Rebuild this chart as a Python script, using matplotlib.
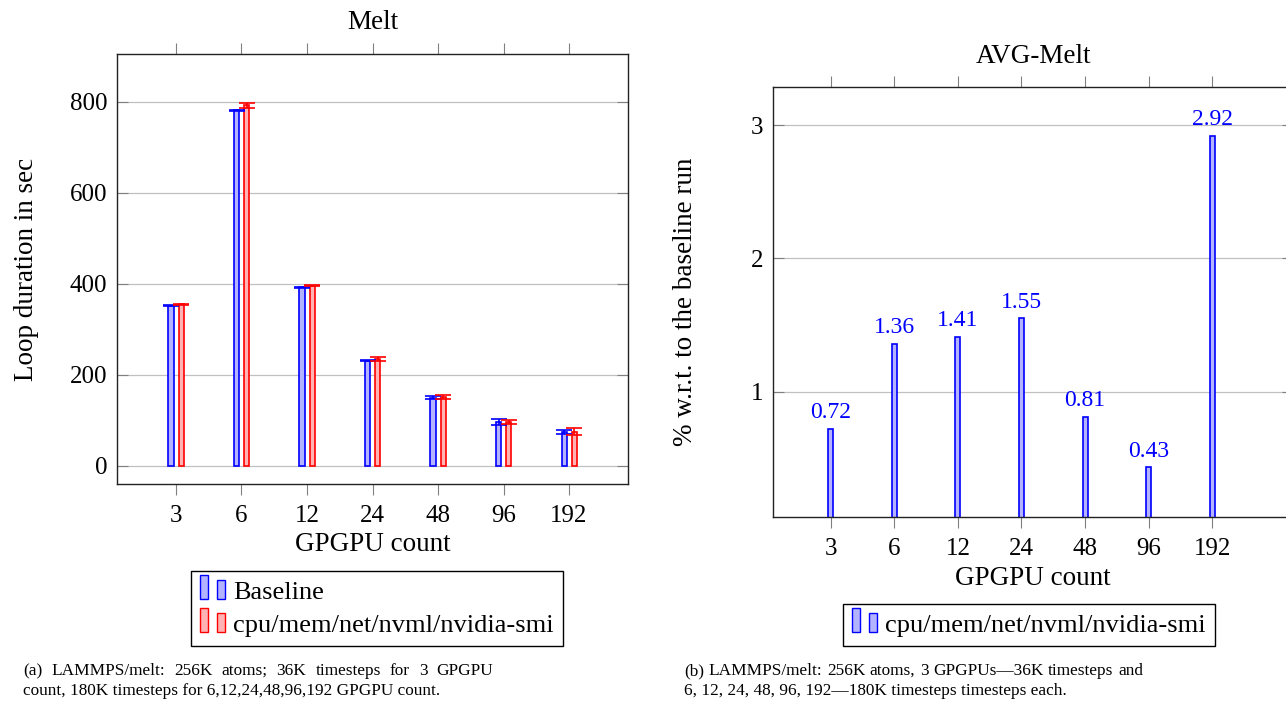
import matplotlib
matplotlib.use('Agg')
import matplotlib.pyplot as plt
from matplotlib.patches import Rectangle
from matplotlib.container import BarContainer
from matplotlib.legend_handler import HandlerBase
import numpy as np

plt.rcParams['font.family'] = ['Liberation Serif', 'DejaVu Serif']
plt.rcParams['font.size'] = 18
plt.rcParams['axes.linewidth'] = 1.0

# data
gpgpu_counts = ['3', '6', '12', '24', '48', '96', '192']
baseline = [352, 781, 392, 231, 150, 96, 74]
baseline_err = [1, 1.5, 1, 1, 2.5, 7, 4]
monitored = [355, 792, 396, 235, 151, 97, 75]
monitored_err = [1.5, 5.5, 1.5, 4, 4, 4.5, 7]
avg_overhead = [0.72, 1.36, 1.41, 1.55, 0.81, 0.43, 2.92]

BLUE_FACE = '#b3b3ff'
RED_FACE = '#ffb3b3'
GRID = '#c0c0c0'
TICK = '#808080'
LABEL_SIZE = 19.5

W, H = 1286, 708
fig = plt.figure(figsize=(W / 100, H / 100), dpi=100)


class TwoBarHandler(HandlerBase):
    """pgfplots-like ybar legend image: two small bars"""
    def create_artists(self, legend, orig_handle, xdescent, ydescent,
                       width, height, fontsize, trans):
        p = orig_handle.patches[0]
        fc = p.get_facecolor()
        ec = p.get_edgecolor()
        x0, y0 = -xdescent, -ydescent
        r1 = Rectangle((x0, y0), 0.28 * width, 1.3 * height,
                       facecolor=fc, edgecolor=ec, lw=1.0, transform=trans)
        r2 = Rectangle((x0 + 0.62 * width, y0), 0.3 * width, 1.0 * height,
                       facecolor=fc, edgecolor=ec, lw=1.0, transform=trans)
        return [r1, r2]


def style_axes(ax):
    ax.set_axisbelow(True)
    ax.grid(axis='y', color=GRID, lw=0.9)
    ax.tick_params(axis='x', direction='out', length=8, color=TICK,
                   top=True, bottom=True, labeltop=False, pad=7)
    ax.tick_params(axis='y', direction='in', length=8, color=TICK,
                   left=True, right=True, pad=7)
    for s in ax.spines.values():
        s.set_color('#222222')


# (a) Melt loop duration
x = np.arange(len(gpgpu_counts))
ax1 = fig.add_axes([117 / W, 1 - 484 / H, 511 / W, 430 / H])
err_style = dict(capsize=5.5, elinewidth=1.2, capthick=1.2)
b1 = ax1.bar(x - 0.075, baseline, 0.08, yerr=baseline_err, color=BLUE_FACE,
             edgecolor='blue', lw=1.2, label='Baseline',
             error_kw=dict(ecolor='blue', **err_style))
b2 = ax1.bar(x + 0.08, monitored, 0.08, yerr=monitored_err, color=RED_FACE,
             edgecolor='red', lw=1.2, label='cpu/mem/net/nvml/nvidia-smi',
             error_kw=dict(ecolor='red', **err_style))
ax1.set_xlim(-0.9, 6.9)
ax1.set_ylim(-40, 905)
ax1.set_xticks(x)
ax1.set_xticklabels(gpgpu_counts)
ax1.set_yticks([0, 200, 400, 600, 800])
style_axes(ax1)
ax1.set_title('Melt', pad=18, fontsize=LABEL_SIZE)
ax1.set_xlabel('GPGPU count', labelpad=4, fontsize=LABEL_SIZE)
ax1.set_ylabel('Loop duration in sec', labelpad=22, fontsize=LABEL_SIZE)

fig.legend(handles=[b1, b2], loc='upper left',
           bbox_to_anchor=(191 / W, 1 - 571 / H), borderaxespad=0,
           handler_map={BarContainer: TwoBarHandler()},
           handlelength=1.0, handletextpad=0.25, labelspacing=0.36,
           fontsize=19, frameon=True, fancybox=False, edgecolor='black',
           framealpha=1, borderpad=0.35)

# (b) AVG-Melt overhead
ax2 = fig.add_axes([773 / W, 1 - 516.7 / H, 520 / W, 430 / H])
b3 = ax2.bar(x, avg_overhead, 0.08, color=BLUE_FACE, edgecolor='blue', lw=1.2,
             label='cpu/mem/net/nvml/nvidia-smi')
ax2.bar_label(b3, labels=[f'{v:.2f}' for v in avg_overhead], padding=4,
              color='blue', fontsize=17)
ax2.set_xlim(-0.907, 7.27)
ax2.set_ylim(0.06, 3.29)
ax2.set_xticks(x)
ax2.set_xticklabels(gpgpu_counts)
ax2.set_yticks([1, 2, 3])
style_axes(ax2)
ax2.set_title('AVG-Melt', pad=17, fontsize=LABEL_SIZE, x=(1033 - 773) / 520)
ax2.set_xlabel('GPGPU count', labelpad=5, fontsize=LABEL_SIZE)
ax2.set_ylabel('% w.r.t. to the baseline run', labelpad=38, fontsize=LABEL_SIZE)

fig.legend(handles=[b3], loc='upper left',
           bbox_to_anchor=(843 / W, 1 - 604 / H), borderaxespad=0,
           handler_map={BarContainer: TwoBarHandler()},
           handlelength=1.0, handletextpad=0.25,
           fontsize=19, frameon=True, fancybox=False, edgecolor='black',
           framealpha=1, borderpad=0.35)

# captions, first line justified like the paper
renderer = fig.canvas.get_renderer()
CAP = 12.4


def justified(x0, x1, y, line):
    words = line.split(' ')
    texts = [fig.text(0, 1 - y / H, w, fontsize=CAP, va='center') for w in words]
    widths = [t.get_window_extent(renderer).width for t in texts]
    gap = (x1 - x0 - sum(widths)) / (len(words) - 1)
    pos = x0
    for t, w in zip(texts, widths):
        t.set_x(pos / W)
        pos += w + gap


justified(23, 493, 671, '(a) LAMMPS/melt: 256K atoms; 36K timesteps for 3 GPGPU')
fig.text(23 / W, 1 - 691 / H,
         'count, 180K timesteps for 6,12,24,48,96,192 GPGPU count.',
         fontsize=CAP, va='center')
justified(684, 1143, 671, '(b) LAMMPS/melt: 256K atoms, 3 GPGPUs\u201436K timesteps and')
fig.text(684 / W, 1 - 691 / H,
         '6, 12, 24, 48, 96, 192\u2014180K timesteps timesteps each.',
         fontsize=CAP, va='center')

plt.savefig('out.png', dpi=100, facecolor='white')
plt.close()
